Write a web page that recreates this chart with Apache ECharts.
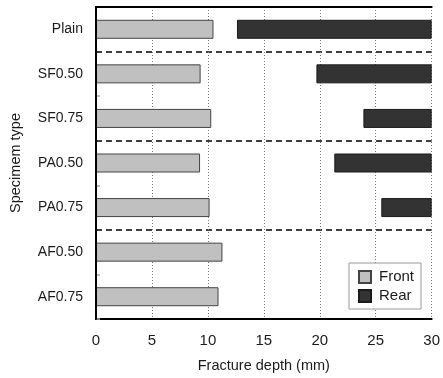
<!DOCTYPE html>
<html>
<head>
<meta charset="utf-8">
<script src="https://cdn.jsdelivr.net/npm/echarts@6/dist/echarts.min.js"></script>
<style>html,body{margin:0;padding:0;background:#fff;}#c{width:443px;height:378px;}</style>
</head>
<body>
<div id="c"></div>
<script>
var categories = ['Plain', 'SF0.50', 'SF0.75', 'PA0.50', 'PA0.75', 'AF0.50', 'AF0.75'];
var frontDepth = [10.5, 9.35, 10.3, 9.3, 10.15, 11.3, 10.95];
var rearDepth = [17.4, 10.3, 6.1, 8.7, 4.5, 0, 0];
var thickness = 30;
var xTicks = [0, 5, 10, 15, 20, 25, 30];

var rearBase = rearDepth.map(function (d) { return d > 0 ? thickness - d : 0; });
var rearVals = rearDepth.map(function (d) { return d > 0 ? d : '-'; });

var FONT = 'Liberation Sans, Arial, sans-serif';
var chart = echarts.init(document.getElementById('c'), null, {renderer: 'canvas'});
chart.setOption({
  animation: false,
  backgroundColor: '#fff',
  textStyle: {fontFamily: FONT},
  grid: {left: 94, right: 8, top: 7, bottom: 58, containLabel: false},
  legend: {
    data: ['Front', 'Rear'],
    orient: 'vertical',
    left: 349, top: 263,
    padding: [6, 7, 5, 9],
    itemGap: 3,
    itemWidth: 12, itemHeight: 12,
    icon: 'rect',
    backgroundColor: '#fff',
    borderColor: '#999', borderWidth: 1,
    textStyle: {fontSize: 15, color: '#1a1a1a', fontFamily: FONT, lineHeight: 16, padding: [0, 0, 0, 3]}
  },
  xAxis: [{
    type: 'value', min: 0, max: thickness, interval: 5,
    name: 'Fracture depth (mm)', nameLocation: 'middle', nameGap: 39,
    nameTextStyle: {fontSize: 14.5, color: '#1a1a1a', fontFamily: FONT},
    axisLine: {show: true, lineStyle: {color: '#000', width: 2}},
    axisTick: {show: false},
    axisLabel: {fontSize: 15, color: '#1a1a1a', margin: 14, fontFamily: FONT,
      formatter: function (v) { return xTicks.indexOf(v) >= 0 ? String(v) : ''; }},
    splitLine: {show: true, lineStyle: {color: '#777', type: [1, 2], width: 1}}
  }, {
    type: 'value', min: 0, max: thickness, position: 'top', z: 5,
    axisLine: {show: true, lineStyle: {color: '#000', width: 2}},
    axisTick: {show: false}, axisLabel: {show: false}, splitLine: {show: false}
  }],
  yAxis: [{
    type: 'category', data: categories, inverse: true,
    name: 'Specimem type', nameLocation: 'middle', nameGap: 73, nameRotate: 90,
    nameTextStyle: {fontSize: 14.5, color: '#1a1a1a', fontFamily: FONT},
    axisLine: {show: true, lineStyle: {color: '#000', width: 2}},
    axisTick: {show: true, inside: true, length: 4,
      interval: function (i) { return i === 2 || i === 4 || i === 6; },
      lineStyle: {color: '#aaa', width: 1.5}},
    axisLabel: {fontSize: 14, color: '#1a1a1a', margin: 13, fontFamily: FONT},
    splitLine: {show: true,
      interval: function (i) { return i === 1 || i === 3 || i === 5; },
      lineStyle: {color: '#000', type: [6, 4], width: 1.6}}
  }, {
    type: 'category', data: categories, inverse: true, position: 'right', z: 5,
    axisLine: {show: true, lineStyle: {color: '#000', width: 2}},
    axisTick: {show: false}, axisLabel: {show: false}, splitLine: {show: false}
  }],
  series: [{
    name: 'Front', type: 'bar', data: frontDepth, barWidth: 19, barGap: '-100%',
    itemStyle: {color: '#c0c0c0', borderColor: '#444', borderWidth: 1}
  }, {
    name: 'base', type: 'bar', stack: 'rear', data: rearBase, barWidth: 19,
    itemStyle: {color: 'rgba(0,0,0,0)'}, silent: true
  }, {
    name: 'Rear', type: 'bar', stack: 'rear', data: rearVals, barWidth: 19,
    itemStyle: {color: '#333333', borderColor: '#1a1a1a', borderWidth: 1}
  }]
});
</script>
</body>
</html>
